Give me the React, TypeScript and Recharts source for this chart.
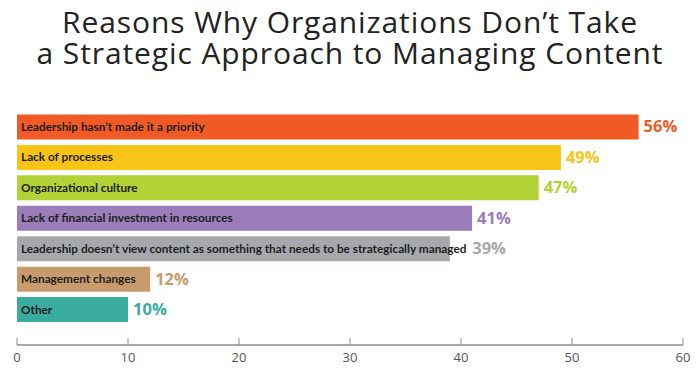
import { BarChart, Bar, XAxis, YAxis, Cell, LabelList } from 'recharts'

const reasons = [
  'Leadership hasn\u2019t made it a priority',
  'Lack of processes',
  'Organizational culture',
  'Lack of financial investment in resources',
  'Leadership doesn\u2019t view content as something that needs to be strategically managed',
  'Management changes',
  'Other',
]
const shares = [56, 49, 47, 41, 39, 12, 10]
const barColors = ['#f15a24', '#f8c416', '#b2d235', '#9a7db9', '#a7a8ab', '#c99b6c', '#39ab9f']
const xTicks = [0, 10, 20, 30, 40, 50, 60]

const data = reasons.map((name, i) => ({ name, value: shares[i] }))

const AXIS = '#8c8c8c'
const NAME_FONT = '700 11.8px Lato, sans-serif'

// width of a bar's name, so a value label never sits on top of it
let ctx: CanvasRenderingContext2D | null = null
function nameWidth(s: string) {
  if (!ctx) ctx = document.createElement('canvas').getContext('2d')
  if (!ctx) return s.length * 5.3
  ctx.font = NAME_FONT
  return ctx.measureText(s).width
}

function NameLabel(props: any) {
  const { x, y, height, value } = props
  return (
    <text x={x + 4} y={y + height / 2 + 1} dominantBaseline="middle" fontFamily="Lato, sans-serif"
      fontWeight={700} fontSize={11.8} fill="#1e1e1e">
      {value}
    </text>
  )
}

function ValueLabel(props: any) {
  const { x, y, width, height, value, index } = props
  const left = Math.max(x + width + 5, x + 4 + nameWidth(reasons[index]) + 5)
  return (
    <text x={left} y={y + height / 2 + 1} dominantBaseline="middle" fontFamily="'Open Sans', sans-serif"
      fontWeight={700} fontSize={16.5} fill={barColors[index]}>
      {value}%
    </text>
  )
}

function XTick(props: any) {
  const { x, y, payload } = props
  return (
    <g>
      <line x1={x} x2={x} y1={y} y2={y - 7} stroke={AXIS} strokeWidth={1} />
      <text x={x} y={y + 14} textAnchor="middle" dominantBaseline="middle" fontFamily="'Open Sans', sans-serif"
        fontSize={13} fill="#555">
        {payload.value}
      </text>
    </g>
  )
}

export default function App() {
  return (
    <div style={{ position: 'absolute', left: 0, top: 0, width: 700, height: 371, background: '#fff' }}>
      <div style={{
        position: 'absolute', left: 0, top: 6, width: 700, textAlign: 'center',
        fontFamily: "'Open Sans', sans-serif", fontWeight: 400, fontSize: 30, lineHeight: '31px',
        letterSpacing: 0.9, color: '#222',
      }}>
        Reasons Why Organizations Don’t Take<br />a Strategic Approach to Managing Content
      </div>
      <div style={{ position: 'absolute', left: 0, top: 0 }}>
        <BarChart width={700} height={371} data={data} layout="vertical"
          margin={{ top: 101, right: 17, bottom: 0, left: 17 }} barCategoryGap={2.5}>
          <XAxis type="number" domain={[0, 60]} ticks={xTicks} tickSize={0} tickMargin={0} height={26}
            tickLine={false} axisLine={{ stroke: AXIS, strokeWidth: 1.5 }} tick={<XTick />} interval={0} />
          <YAxis type="category" dataKey="name" width={0} tick={false} tickLine={false}
            axisLine={{ stroke: AXIS, strokeWidth: 1.5 }} padding={{ top: 11, bottom: 20 }} />
          <Bar dataKey="value" isAnimationActive={false}>
            {data.map((_, i) => (
              <Cell key={i} fill={barColors[i]} />
            ))}
            <LabelList dataKey="name" content={<NameLabel />} />
            <LabelList dataKey="value" content={<ValueLabel />} />
          </Bar>
        </BarChart>
      </div>
    </div>
  )
}
